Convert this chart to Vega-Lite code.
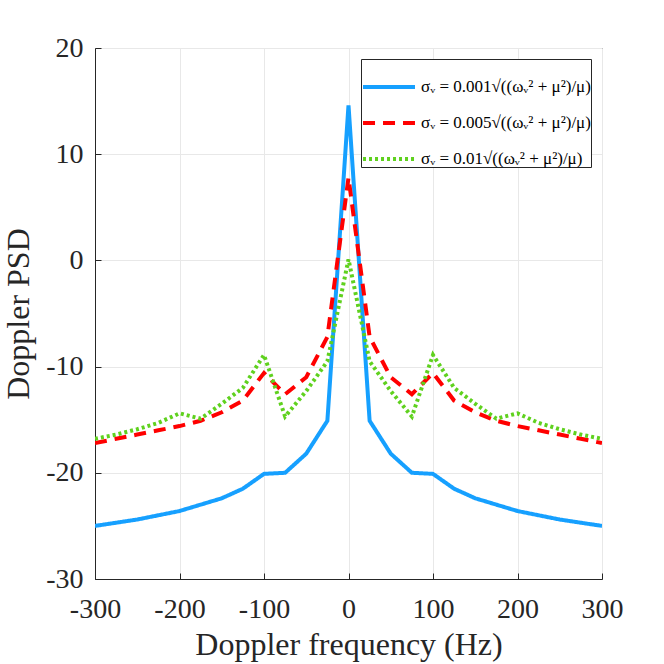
{
  "$schema": "https://vega.github.io/schema/vega-lite/v6.json",
  "autosize": "none",
  "padding": {"left": 95, "top": 48, "right": 62, "bottom": 85},
  "width": 507,
  "height": 531,
  "background": "white",
  "config": {
    "font": "Liberation Serif",
    "view": {"stroke": "#262626", "strokeWidth": 1},
    "axis": {
      "domainColor": "#262626",
      "tickColor": "#262626",
      "gridColor": "#e8e8e8",
      "labelColor": "#262626",
      "titleColor": "#262626",
      "labelFont": "Liberation Serif",
      "titleFont": "Liberation Serif",
      "labelFontSize": 28,
      "titleFontSize": 32,
      "titleFontWeight": "normal",
      "labelFlush": false,
      "labelOverlap": false,
      "labelBound": false
    }
  },
  "data": {
    "values": [
      {"f": -300, "psd": -25.0, "s": "a"}, {"f": -275, "psd": -24.7, "s": "a"}, {"f": -250, "psd": -24.4, "s": "a"},
      {"f": -225, "psd": -24.0, "s": "a"}, {"f": -200, "psd": -23.6, "s": "a"}, {"f": -175, "psd": -23.0, "s": "a"},
      {"f": -150, "psd": -22.4, "s": "a"}, {"f": -125, "psd": -21.5, "s": "a"}, {"f": -100, "psd": -20.1, "s": "a"},
      {"f": -75, "psd": -20.0, "s": "a"}, {"f": -50, "psd": -18.2, "s": "a"}, {"f": -25, "psd": -15.1, "s": "a"},
      {"f": 0, "psd": 14.6, "s": "a"},
      {"f": 25, "psd": -15.1, "s": "a"}, {"f": 50, "psd": -18.2, "s": "a"}, {"f": 75, "psd": -20.0, "s": "a"},
      {"f": 100, "psd": -20.1, "s": "a"}, {"f": 125, "psd": -21.5, "s": "a"}, {"f": 150, "psd": -22.4, "s": "a"},
      {"f": 175, "psd": -23.0, "s": "a"}, {"f": 200, "psd": -23.6, "s": "a"}, {"f": 225, "psd": -24.0, "s": "a"},
      {"f": 250, "psd": -24.4, "s": "a"}, {"f": 275, "psd": -24.7, "s": "a"}, {"f": 300, "psd": -25.0, "s": "a"},

      {"f": -300, "psd": -17.2, "s": "b"}, {"f": -275, "psd": -16.8, "s": "b"}, {"f": -250, "psd": -16.4, "s": "b"},
      {"f": -225, "psd": -16.0, "s": "b"}, {"f": -200, "psd": -15.6, "s": "b"}, {"f": -175, "psd": -15.1, "s": "b"},
      {"f": -150, "psd": -14.3, "s": "b"}, {"f": -125, "psd": -13.2, "s": "b"}, {"f": -100, "psd": -10.6, "s": "b"},
      {"f": -75, "psd": -12.6, "s": "b"}, {"f": -50, "psd": -11.0, "s": "b"}, {"f": -25, "psd": -7.2, "s": "b"},
      {"f": 0, "psd": 7.8, "s": "b"},
      {"f": 25, "psd": -7.2, "s": "b"}, {"f": 50, "psd": -11.0, "s": "b"}, {"f": 75, "psd": -12.6, "s": "b"},
      {"f": 100, "psd": -10.6, "s": "b"}, {"f": 125, "psd": -13.2, "s": "b"}, {"f": 150, "psd": -14.3, "s": "b"},
      {"f": 175, "psd": -15.1, "s": "b"}, {"f": 200, "psd": -15.6, "s": "b"}, {"f": 225, "psd": -16.0, "s": "b"},
      {"f": 250, "psd": -16.4, "s": "b"}, {"f": 275, "psd": -16.8, "s": "b"}, {"f": 300, "psd": -17.2, "s": "b"},

      {"f": -300, "psd": -16.8, "s": "c"}, {"f": -275, "psd": -16.4, "s": "c"}, {"f": -250, "psd": -15.9, "s": "c"},
      {"f": -225, "psd": -15.3, "s": "c"}, {"f": -200, "psd": -14.4, "s": "c"}, {"f": -175, "psd": -14.9, "s": "c"},
      {"f": -150, "psd": -13.5, "s": "c"}, {"f": -125, "psd": -12.0, "s": "c"}, {"f": -100, "psd": -8.9, "s": "c"},
      {"f": -75, "psd": -14.7, "s": "c"}, {"f": -50, "psd": -12.3, "s": "c"}, {"f": -25, "psd": -9.5, "s": "c"},
      {"f": 0, "psd": 0.1, "s": "c"},
      {"f": 25, "psd": -9.5, "s": "c"}, {"f": 50, "psd": -12.3, "s": "c"}, {"f": 75, "psd": -14.7, "s": "c"},
      {"f": 100, "psd": -8.9, "s": "c"}, {"f": 125, "psd": -12.0, "s": "c"}, {"f": 150, "psd": -13.5, "s": "c"},
      {"f": 175, "psd": -14.9, "s": "c"}, {"f": 200, "psd": -14.4, "s": "c"}, {"f": 225, "psd": -15.3, "s": "c"},
      {"f": 250, "psd": -15.9, "s": "c"}, {"f": 275, "psd": -16.4, "s": "c"}, {"f": 300, "psd": -16.8, "s": "c"}
    ]
  },
  "mark": {"type": "line", "strokeWidth": 4, "clip": true},
  "encoding": {
    "x": {
      "field": "f",
      "type": "quantitative",
      "scale": {"domain": [-300, 300], "nice": false},
      "axis": {
        "title": "Doppler frequency (Hz)",
        "values": [-300, -200, -100, 0, 100, 200, 300],
        "labelExpr": "'' + datum.value",
        "tickSize": -6,
        "labelPadding": 22,
        "titlePadding": 6
      }
    },
    "y": {
      "field": "psd",
      "type": "quantitative",
      "scale": {"domain": [-30, 20], "nice": false},
      "axis": {
        "title": "Doppler PSD",
        "values": [-30, -20, -10, 0, 10, 20],
        "labelExpr": "'' + datum.value",
        "tickSize": -6,
        "labelPadding": 18,
        "titlePadding": 10
      }
    },
    "color": {
      "field": "s",
      "type": "nominal",
      "scale": {"domain": ["a", "b", "c"], "range": ["#16a0ff", "#ff0000", "#5fd11e"]},
      "legend": {
        "title": null,
        "orient": "top-right",
        "offset": 11,
        "labelExpr": "datum.value == 'a' ? 'σᵥ = 0.001√((ωᵥ² + μ²)/μ)' : datum.value == 'b' ? 'σᵥ = 0.005√((ωᵥ² + μ²)/μ)' : 'σᵥ = 0.01√((ωᵥ² + μ²)/μ)'",
        "labelFont": "Liberation Serif",
        "labelFontSize": 17,
        "labelColor": "#000000",
        "labelLimit": 0,
        "labelOffset": 4,
        "symbolType": "stroke",
        "symbolSize": 2700,
        "symbolStrokeWidth": 4,
        "rowPadding": -15,
        "padding": 0,
        "strokeColor": "#262626",
        "fillColor": "white"
      }
    },
    "strokeDash": {
      "field": "s",
      "type": "nominal",
      "scale": {"domain": ["a", "b", "c"], "range": [[1, 0], [12, 8], [3, 3]]},
      "legend": null
    }
  }
}
